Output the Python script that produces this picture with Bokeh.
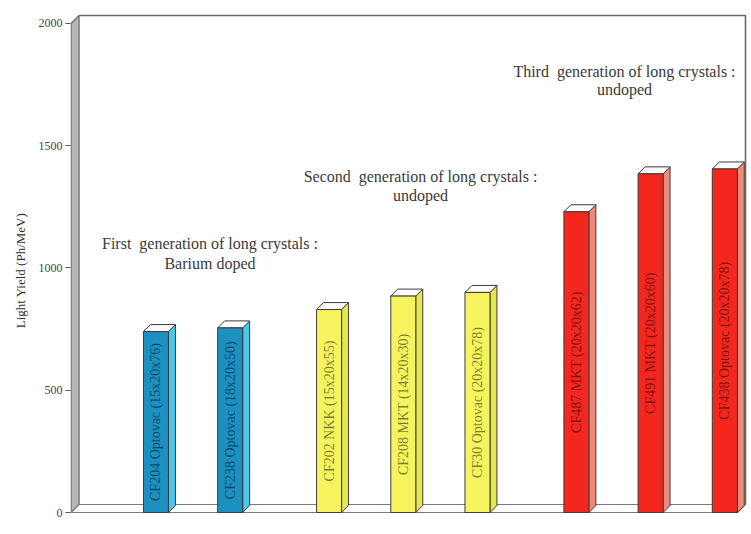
import numpy as np
from bokeh.plotting import figure
from bokeh.models import Range1d, ColumnDataSource, FixedTicker
from bokeh.core.properties import value
from bokeh.embed import file_html
from bokeh.resources import INLINE

# ---- data -------------------------------------------------------------
crystals = [
    "CF204 Optovac (15x20x76)",
    "CF238 Optovac (18x20x50)",
    "CF202 NKK (15x20x55)",
    "CF208 MKT (14x20x30)",
    "CF30 Optovac (20x20x78)",
    "CF487 MKT (20x20x62)",
    "CF491 MKT (20x20x60)",
    "CF438 Optovac (20x20x78)",
]
light_yield = [740, 755, 830, 885, 900, 1230, 1385, 1405]
generation = [0, 0, 1, 1, 1, 2, 2, 2]

# a no-break space keeps the double gap after the first word in SVG text
caption_first_lines = [
    "First\u00a0 generation of long crystals :",
    "Second\u00a0 generation of long crystals :",
    "Third\u00a0 generation of long crystals :",
]
caption_second_lines = ["Barium doped", "undoped", "undoped"]

y_ticks = [0, 500, 1000, 1500, 2000]

# ---- styling / layout ---------------------------------------------------
FRONT = ["#1c90c0", "#f6f45e", "#f4271f"]
SIDE = ["#4cc6ee", "#e6e650", "#ef8a78"]
TOP = "#fbfbfb"
EDGE = "#3c3c3c"

Y_MAX = 2000
GROUP_GAP = 0.333          # extra space between generations (in slot units)
BAR_W = 0.337              # front face width
BAR_DX, BAR_DY = 0.094, 28.6     # depth of each bar
WALL_DX, WALL_DY = 0.108, 32.7   # depth of the box walls
X0, X1 = -1.152, 7.972
Y0, Y1 = -73.6, 2053
XL = X0 + 0.008            # front edge of the left wall
XR = 7.945                 # back-right edge of the box

# caption anchors (data units)
cap_x = [0.728, 3.565, 6.314]
cap_y1 = [1100, 1374, 1804]
cap_y2 = [1018, 1297, 1730]

# ---- geometry derived from the data -----------------------------------
xpos = [i + GROUP_GAP * g for i, g in enumerate(generation)]
left = [x - BAR_W / 2 for x in xpos]
right = [x + BAR_W / 2 for x in xpos]

front_src = ColumnDataSource(dict(
    left=left, right=right, top=light_yield, bottom=[0] * len(xpos),
    color=[FRONT[g] for g in generation],
))
side_src = ColumnDataSource(dict(
    xs=[[r, r + BAR_DX, r + BAR_DX, r] for r in right],
    ys=[[0, BAR_DY, v + BAR_DY, v] for v in light_yield],
    color=[SIDE[g] for g in generation],
))
top_src = ColumnDataSource(dict(
    xs=[[l, r, r + BAR_DX, l + BAR_DX] for l, r in zip(left, right)],
    ys=[[v, v, v + BAR_DY, v + BAR_DY] for v in light_yield],
))
label_src = ColumnDataSource(dict(
    x=xpos, y=[v / 2 for v in light_yield], text=crystals,
))

# ---- figure -----------------------------------------------------------
p = figure(
    width=751, height=534,
    x_range=Range1d(X0, X1), y_range=Range1d(Y0, Y1),
    output_backend="svg", toolbar_location=None,
    x_axis_location=None,
    min_border_left=70, min_border_right=4,
    min_border_top=10, min_border_bottom=4,
)
p.grid.visible = False
p.outline_line_color = None
p.background_fill_color = "white"
p.border_fill_color = "white"

yax = p.yaxis[0]
yax.ticker = FixedTicker(ticks=y_ticks)
yax.axis_line_color = None
yax.major_tick_in = 0
yax.major_tick_out = 5
yax.major_tick_line_color = "#555555"
yax.minor_tick_line_color = None
yax.major_label_standoff = 3
yax.major_label_text_font = "Liberation Serif"
yax.major_label_text_font_size = "12px"
yax.major_label_text_color = "#444444"
yax.axis_label = "Light Yield (Ph/MeV)"
yax.axis_label_text_font = "Liberation Serif"
yax.axis_label_text_font_size = "13px"
yax.axis_label_text_font_style = "normal"
yax.axis_label_text_color = "#333333"
yax.axis_label_standoff = 8

# box: left wall, floor, back/right edges
p.patch([XL, XL, XL + WALL_DX, XL + WALL_DX],
        [0, Y_MAX, Y_MAX + WALL_DY, WALL_DY],
        fill_color="#b6b6b6", line_color="#6a6a6a", line_width=1.2)
p.patch([XL, XR - WALL_DX, XR, XL + WALL_DX],
        [0, 0, WALL_DY, WALL_DY],
        fill_color="#ffffff", line_color="#7a7a7a", line_width=1.2)
p.line([XL + WALL_DX, XR, XR], [Y_MAX + WALL_DY, Y_MAX + WALL_DY, WALL_DY],
       line_color="#6a6a6a", line_width=1.6)

# 3-D bars
p.patches("xs", "ys", source=side_src, fill_color="color",
          line_color=EDGE, line_width=1)
p.patches("xs", "ys", source=top_src, fill_color=TOP,
          line_color=EDGE, line_width=1)
p.quad(left="left", right="right", top="top", bottom="bottom",
       source=front_src, fill_color="color", line_color=EDGE, line_width=1)

p.text(x="x", y="y", text="text", source=label_src,
       angle=np.pi / 2, text_align="center", text_baseline="middle",
       text_font=value("Liberation Serif"), text_font_size="14px",
       text_color="#000000", text_alpha=0.5)

# generation captions
p.text(x=cap_x, y=cap_y1, text=caption_first_lines,
       text_align="center", text_baseline="middle",
       text_font=value("Liberation Serif"), text_font_size="16px",
       text_color="#3a3a3a")
p.text(x=cap_x, y=cap_y2, text=caption_second_lines,
       text_align="center", text_baseline="middle",
       text_font=value("Liberation Serif"), text_font_size="16px",
       text_color="#3a3a3a")

open("out.html", "w").write(file_html(p, INLINE))
